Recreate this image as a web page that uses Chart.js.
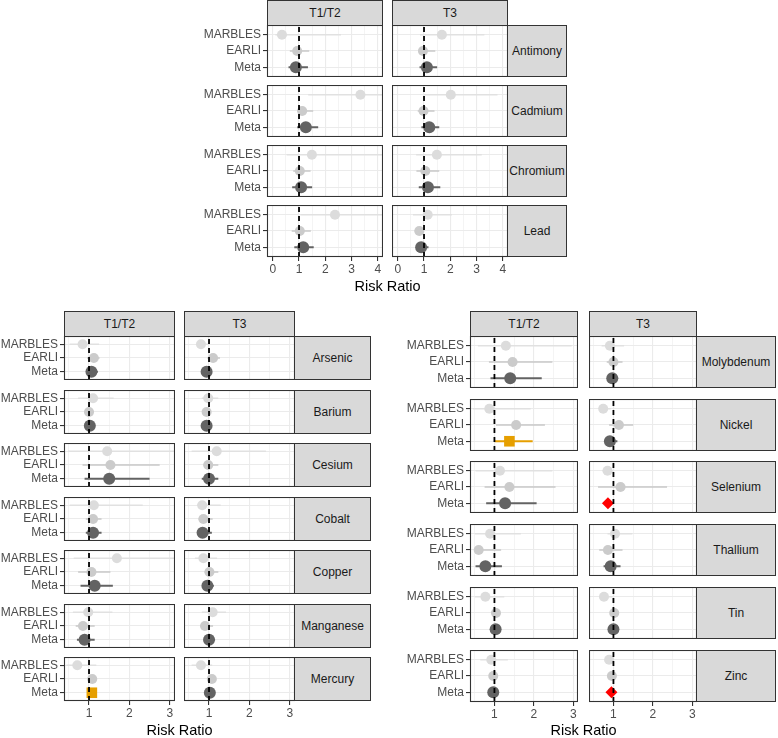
<!DOCTYPE html>
<html>
<head>
<meta charset="utf-8">
<script src="https://cdn.jsdelivr.net/npm/chart.js@4.4.1/dist/chart.umd.min.js"></script>
<style>
  body { margin: 0; width: 778px; height: 738px; position: relative; overflow: hidden; background: #fff;
         font-family: "Liberation Sans", Arial, sans-serif; }
  .box { position: absolute; }
  .strip { position: absolute; box-sizing: border-box; background: #d9d9d9; border: 1px solid #333;
           display: flex; align-items: center; justify-content: center; font-size: 12px; color: #1a1a1a; }
  .xtitle { position: absolute; font-size: 14.5px; line-height: 15px; color: #000; text-align: center; white-space: nowrap; }
</style>
</head>
<body>
<script>
'use strict';

// ---- data --------------------------------------------------------------
var studies  = ['MARBLES', 'EARLI', 'Meta'];
var tertiles = ['T1/T2', 'T3'];

var metals = ['Antimony', 'Cadmium', 'Chromium', 'Lead',
              'Arsenic', 'Barium', 'Cesium', 'Cobalt', 'Copper', 'Manganese', 'Mercury',
              'Molybdenum', 'Nickel', 'Selenium', 'Thallium', 'Tin', 'Zinc'];

var topMetals   = ['Antimony', 'Cadmium', 'Chromium', 'Lead'];
var leftMetals  = ['Arsenic', 'Barium', 'Cesium', 'Cobalt', 'Copper', 'Manganese', 'Mercury'];
var rightMetals = ['Molybdenum', 'Nickel', 'Selenium', 'Thallium', 'Tin', 'Zinc'];

var topTicks    = [0, 1, 2, 3, 4];
var bottomTicks = [1, 2, 3];

// risk ratios, one row per metal (same order as `metals`), columns MARBLES, EARLI, Meta
var t12Est = [
    [0.35, 0.93, 0.88], [3.34, 1.12, 1.26], [1.49, 1.03, 1.08], [2.37, 1.03, 1.16],
    [0.84, 1.12, 1.06], [1.10, 1.00, 1.02], [1.45, 1.53, 1.50], [1.12, 1.10, 1.10],
    [1.69, 1.06, 1.14], [0.98, 0.85, 0.89], [0.71, 1.08, 1.07],
    [1.29, 1.46, 1.40], [0.87, 1.55, 1.38], [1.14, 1.38, 1.27], [0.89, 0.60, 0.77],
    [0.77, 1.04, 1.03], [0.92, 0.97, 0.97]
];
var t12Lo = [
    [0.10, 0.65, 0.60], [1.35, 0.93, 0.93], [0.53, 0.78, 0.74], [1.05, 0.72, 0.82],
    [0.52, 0.95, 0.94], [0.73, 0.89, 0.92], [0.48, 0.84, 0.89], [0.52, 0.92, 0.92],
    [0.62, 0.73, 0.79], [0.60, 0.67, 0.70], [0.44, 1.00, 1.01],
    [0.58, 0.86, 0.90], [0.45, 1.04, 1.01], [0.52, 0.75, 0.79], [0.50, 0.48, 0.52],
    [0.50, 0.92, 0.95], [0.64, 0.88, 0.90]
];
var t12Hi = [
    [2.60, 1.39, 1.34], [9.00, 1.54, 1.73], [9.00, 1.44, 1.50], [9.00, 1.45, 1.56],
    [1.25, 1.26, 1.22], [1.61, 1.12, 1.14], [5.00, 2.75, 2.50], [2.33, 1.31, 1.31],
    [5.00, 1.53, 1.59], [1.58, 1.14, 1.14], [1.18, 1.18, 1.14],
    [2.96, 2.47, 2.20], [1.92, 2.28, 1.97], [2.47, 2.55, 2.07], [1.67, 1.17, 1.19],
    [1.25, 1.15, 1.10], [1.34, 1.08, 1.05]
];
var t3Est = [
    [1.68, 0.96, 1.11], [2.02, 0.98, 1.20], [1.49, 1.05, 1.15], [1.14, 0.82, 0.89],
    [0.80, 1.10, 0.94], [0.98, 0.94, 0.94], [1.19, 0.98, 1.00], [0.83, 0.86, 0.84],
    [0.86, 1.01, 0.96], [1.09, 0.90, 1.00], [0.80, 1.07, 1.02],
    [0.91, 1.00, 0.97], [0.74, 1.14, 0.91], [0.85, 1.18, 0.86], [1.04, 0.86, 0.93],
    [0.76, 1.02, 1.00], [0.89, 0.96, 0.95]
];
var t3Lo = [
    [0.85, 0.78, 0.83], [1.00, 0.76, 0.90], [0.70, 0.71, 0.80], [0.58, 0.64, 0.73],
    [0.70, 0.96, 0.84], [0.82, 0.87, 0.84], [0.57, 0.86, 0.82], [0.70, 0.74, 0.74],
    [0.65, 0.89, 0.84], [0.82, 0.78, 0.88], [0.57, 0.96, 0.95],
    [0.70, 0.83, 0.85], [0.64, 0.89, 0.76], [0.72, 0.61, 0.78], [0.85, 0.64, 0.75],
    [0.64, 0.93, 0.93], [0.77, 0.87, 0.90]
];
var t3Hi = [
    [3.30, 1.43, 1.50], [3.80, 1.40, 1.58], [3.20, 1.58, 1.62], [2.06, 0.98, 1.17],
    [0.98, 1.27, 1.05], [1.23, 1.05, 1.05], [2.41, 1.23, 1.23], [1.29, 1.09, 1.07],
    [1.20, 1.23, 1.12], [1.42, 1.10, 1.15], [1.08, 1.17, 1.12],
    [1.27, 1.23, 1.12], [0.93, 1.50, 1.10], [1.00, 2.36, 0.95], [1.48, 1.23, 1.18],
    [0.98, 1.11, 1.07], [1.00, 1.04, 0.99]
];
// significant meta estimates: 'up' (whole CI above 1) or 'down' (whole CI below 1)
var metaSigT12 = ['', '', '', '', '', '', '', '', '', '', 'up', '', 'up', '', '', '', ''];
var metaSigT3  = ['', '', '', '', '', '', '', '', '', '', '', '', '', 'down', '', '', 'down'];

// ---- styling / layout --------------------------------------------------
var FONT        = 'Liberation Sans, Arial, sans-serif';
var pointColour = ['#dcdcdc', '#cbcbcb', '#636363'];
var lineColour  = ['#e1e1e1', '#c8c8c8', '#636363'];
var lineWidth   = [1.5, 1.5, 2];
var pointRadius = [5, 5, 6];
var sigStyle    = {
    up   : { colour : '#E69F00', style : 'rect',    radius : 7.5 },
    down : { colour : '#FF0000', style : 'rectRot', radius : 6 }
};

var groups = [
    { metals : topMetals,   ticks : topTicks,    xMin : -0.22, xMax : 4.2,
      left : [267, 392], width : 116, top : 25,  height : 52, pitch : 60,   strip : 60, titleY : 279 },
    { metals : leftMetals,  ticks : bottomTicks, xMin : 0.38,  xMax : 3.13,
      left : [64, 184],  width : 111, top : 336, height : 44, pitch : 53.5, strip : 77, titleY : 723 },
    { metals : rightMetals, ticks : bottomTicks, xMin : 0.38,  xMax : 3.12,
      left : [470, 589], width : 108, top : 336, height : 52, pitch : 62.7, strip : 80, titleY : 723 }
];
var Y_AXIS_W = 66,
    X_AXIS_H = 22;

var panelBorder = {
    id : 'panelBorder',
    afterDraw : function (chart) {
        var a = chart.chartArea, c = chart.ctx;
        c.save();
        c.strokeStyle = '#333333';
        c.lineWidth   = 1.1;
        c.strokeRect(a.left + 0.5, a.top + 0.5, a.right - a.left - 1, a.bottom - a.top - 1);
        c.restore();
    }
};

function addDiv(cls, x, y, w, h, text) {
    var d = document.createElement('div');
    d.className = cls;
    d.style.left = x + 'px';
    d.style.top  = y + 'px';
    if (w) d.style.width  = w + 'px';
    if (h) d.style.height = h + 'px';
    if (text) d.textContent = text;
    document.body.appendChild(d);
    return d;
}

function gridValues(g) {
    var out = [];
    g.ticks.forEach(function (v) {
        [v - 0.5, v, v + 0.5].forEach(function (u) {
            if (u >= g.xMin && u <= g.xMax && out.indexOf(u) < 0) out.push(u);
        });
    });
    return out.sort(function (a, b) { return a - b; });
}

function noPad(s) {
    s.paddingTop = 0; s.paddingBottom = 0; s.paddingLeft = 0; s.paddingRight = 0;
}

function drawFacet(g, metal, col, top, isLastRow) {
    var k    = metals.indexOf(metal);
    var est  = (col === 0 ? t12Est : t3Est)[k],
        lo   = (col === 0 ? t12Lo  : t3Lo)[k],
        hi   = (col === 0 ? t12Hi  : t3Hi)[k],
        sig  = (col === 0 ? metaSigT12 : metaSigT3)[k];
    var showY = col === 0;
    var yW = showY ? Y_AXIS_W : 0,
        xH = isLastRow ? X_AXIS_H : 0,
        w  = g.width + yW,
        h  = g.height + xH;

    var box = addDiv('box', g.left[col] - yW, top, w, h);
    var cv  = document.createElement('canvas');
    cv.width = w; cv.height = h;
    cv.style.width = w + 'px'; cv.style.height = h + 'px';
    box.appendChild(cv);

    var isMajor = function (v) { return g.ticks.indexOf(v) >= 0; };
    var grid    = gridValues(g);

    var pColours = studies.map(function (s, i) { return (i === 2 && sig) ? sigStyle[sig].colour : pointColour[i]; });
    var pStyles  = studies.map(function (s, i) { return (i === 2 && sig) ? sigStyle[sig].style  : 'circle'; });
    var pRadii   = studies.map(function (s, i) { return (i === 2 && sig) ? sigStyle[sig].radius : pointRadius[i]; });

    var datasets = [{
        data : [{ x : 1, y : 0.4 }, { x : 1, y : 3.6 }],
        showLine : true, borderColor : '#000000', borderWidth : 1.8, borderDash : [5, 4],
        pointRadius : 0, order : 0, clip : 0
    }, {
        data : studies.map(function (s, i) { return { x : est[i], y : 3 - i }; }),
        showLine : false,
        pointStyle : pStyles, pointRadius : pRadii,
        pointBackgroundColor : pColours, pointBorderWidth : 0,
        order : 1
    }];
    studies.forEach(function (s, i) {
        datasets.push({
            data : [{ x : lo[i], y : 3 - i }, { x : hi[i], y : 3 - i }],
            showLine : true,
            borderColor : (i === 2 && sig) ? sigStyle[sig].colour : lineColour[i],
            borderWidth : lineWidth[i],
            pointRadius : 0, order : 2, clip : 0
        });
    });

    new Chart(cv.getContext('2d'), {
        type : 'scatter',
        data : { datasets : datasets },
        options : {
            responsive : false,
            animation  : false,
            events     : [],
            layout     : { padding : 0, autoPadding : false },
            plugins    : { legend : { display : false }, tooltip : { enabled : false } },
            scales : {
                x : {
                    type : 'linear', min : g.xMin, max : g.xMax,
                    afterBuildTicks : function (s) { s.ticks = grid.map(function (v) { return { value : v }; }); },
                    afterFit : function (s) { s.height = xH; noPad(s); },
                    border : { display : false },
                    grid : {
                        color : '#ebebeb',
                        lineWidth : function (c) { return c.tick && isMajor(c.tick.value) ? 1.1 : 0.55; },
                        drawTicks : isLastRow, tickLength : 4, tickWidth : 1.1,
                        tickColor : function (c) { return c.tick && isMajor(c.tick.value) ? '#333333' : 'rgba(0,0,0,0)'; }
                    },
                    ticks : {
                        display : isLastRow, autoSkip : false, maxRotation : 0, padding : 1,
                        color : '#4d4d4d', font : { family : FONT, size : 12 },
                        callback : function (v) { return isMajor(v) ? String(v) : ''; }
                    }
                },
                y : {
                    type : 'linear', min : 0.4, max : 3.6,
                    afterBuildTicks : function (s) { s.ticks = [1, 2, 3].map(function (v) { return { value : v }; }); },
                    afterFit : function (s) { s.width = yW; noPad(s); },
                    border : { display : false },
                    grid : {
                        color : '#ebebeb', lineWidth : 1.1,
                        drawTicks : showY, tickLength : 4, tickWidth : 1.1, tickColor : '#333333'
                    },
                    ticks : {
                        display : showY, autoSkip : false, padding : 2,
                        color : '#4d4d4d', font : { family : FONT, size : 12 },
                        callback : function (v) { return studies[3 - v]; }
                    }
                }
            }
        },
        plugins : [panelBorder]
    });
}

groups.forEach(function (g) {
    // column strips
    tertiles.forEach(function (t, col) {
        addDiv('strip', g.left[col], g.top - 25, g.width, 26, t);
    });
    g.metals.forEach(function (m, r) {
        var top = Math.round(g.top + r * g.pitch);
        var last = r === g.metals.length - 1;
        drawFacet(g, m, 0, top, last);
        drawFacet(g, m, 1, top, last);
        addDiv('strip', g.left[1] + g.width - 1, top, g.strip, g.height, m);
    });
    var x0 = g.left[0], x1 = g.left[1] + g.width;
    addDiv('xtitle', x0, g.titleY, x1 - x0, 0, 'Risk Ratio');
});
</script>
</body>
</html>
